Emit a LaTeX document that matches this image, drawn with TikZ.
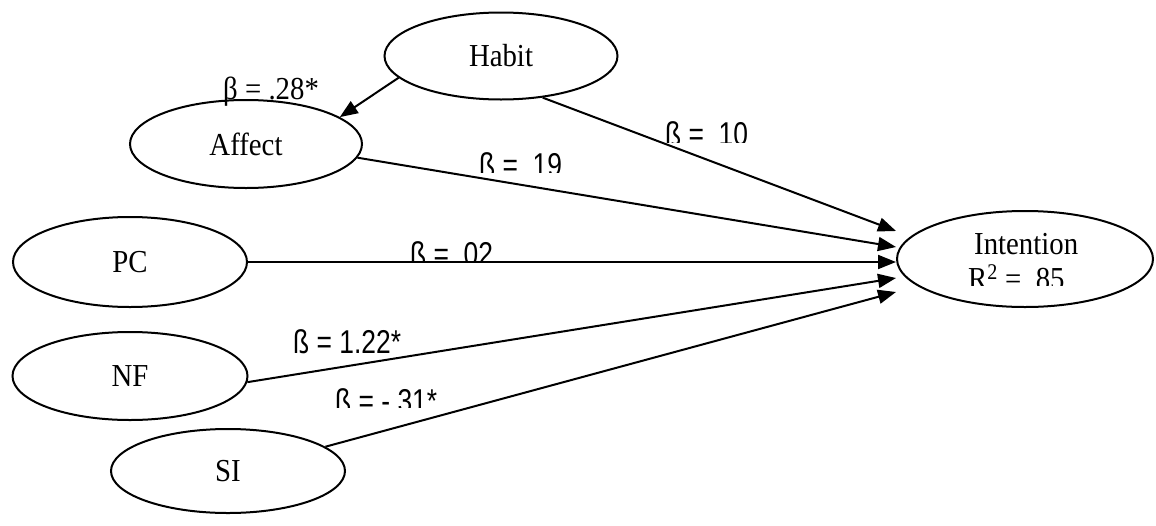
\documentclass[tikz,border=0pt]{standalone}
\usepackage{fontspec}
\setmainfont{Liberation Serif}
\newfontfamily\nodefont[FakeStretch=0.9]{Liberation Serif}
\newfontfamily\labfont[FakeStretch=0.8]{Liberation Sans}
\usetikzlibrary{shapes.geometric,arrows.meta}
\newcommand\cliplab[5]{%
  \begin{scope}
    \clip (#2-5,#4) rectangle (#2+200,#4-60);
    \node[lab] (#1) at (#2,#3) {#5};
  \end{scope}}
\begin{document}
\begin{tikzpicture}[x=1pt,y=-1pt,
  var/.style={ellipse,draw,line width=2pt,inner sep=0pt,font=\nodefont\fontsize{32}{36}\selectfont},
  pathway/.style={line width=2pt,-{Triangle[length=18pt,width=14pt]}},
  lab/.style={inner sep=0pt,anchor=base west,font=\labfont\fontsize{33}{37}\selectfont},
  slab/.style={inner sep=0pt,anchor=base west,font=\nodefont\fontsize{32}{36}\selectfont}]
\useasboundingbox (0,0) rectangle (1156,525);

% variables
\node[var,minimum width=233pt,minimum height=87pt] (habit) at (501,56) {Habit};
\node[var,minimum width=232pt,minimum height=88pt] (affect) at (246,144) {Affect};
\node[var,minimum width=234pt,minimum height=90pt] (pc) at (130,262) {PC};
\node[var,minimum width=235pt,minimum height=88pt] (nf) at (130,376) {NF};
\node[var,minimum width=234pt,minimum height=84pt] (si) at (228,471) {SI};
\node[var,minimum width=256pt,minimum height=96pt] (intent) at (1025,259) {};
\node[slab] (intxt) at (974,254) {Intention};
\begin{scope}
  \clip (960,285) rectangle (1100,255);
  \node[slab] (r2) at (968,289) {R\textsuperscript{2} = \phantom{.}85};
\end{scope}

% paths
\draw[pathway] (habit.192) -- (affect.16);
\draw[pathway] (habit.-45) -- ([yshift=28pt]intent.west);
\draw[pathway] (affect.-7) -- ([yshift=12pt]intent.west);
\draw[pathway] (pc.east) -- ([yshift=-3pt]intent.west);
\draw[pathway] (nf.-3) -- ([yshift=-19pt]intent.west);
\draw[pathway] (si.14) -- ([yshift=-33pt]intent.west);

% coefficients
\node[slab] (l28) at (223,99) {β = .28*};
\cliplab{l10}{665}{145}{142}{ß = \phantom{.}10}
\cliplab{l19}{479}{176}{172}{ß = \phantom{.}19}
\cliplab{l02}{410}{265}{260}{ß = \phantom{.}02}
\node[lab] (l122) at (293,353) {ß = 1.22*};
\cliplab{l31}{335}{412}{407}{ß = -\phantom{.}31*}
\end{tikzpicture}
\end{document}
